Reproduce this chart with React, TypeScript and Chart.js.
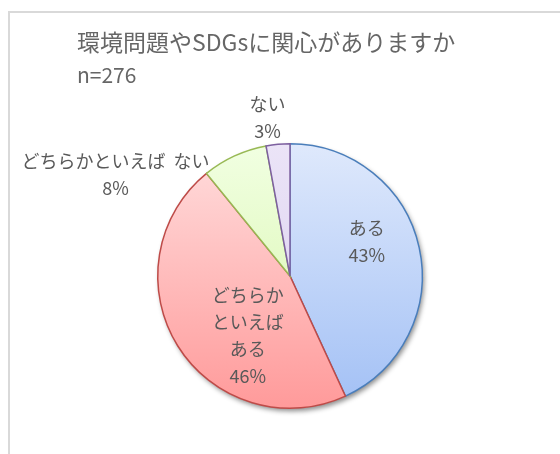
import React, { useEffect, useRef } from "react";
import { Chart, registerables } from "chart.js";

Chart.register(...registerables);

const titleLines = ["環境問題やSDGsに関心がありますか", "n=276"];
const categories = ["ある", "どちらかといえばある", "どちらかといえばない", "ない"];
const counts = [119, 127, 22, 8];
const labelLines = [["ある"], ["どちらか", "といえば", "ある"], ["どちらかといえば  ない"], ["ない"]];

const FONT = '"Noto Sans CJK JP", "Noto Sans", sans-serif';
const TEXT = "#595959";
const gradStops = [
  ["#dfe9fc", "#a2c0f5"],
  ["#ffdede", "#ff9a9a"],
  ["#f1ffe2", "#d6f5a8"],
  ["#ebe4f7", "#d9cdef"],
];
const borders = ["#4a7ebb", "#be4b48", "#98b954", "#7d60a0"];
// label block centre offsets in units of radius
const labelPos = [
  [0.58, -0.26],
  [-0.32, 0.45],
  [-1.32, -0.77],
  [-0.17, -1.2],
];

const bgPlugin = {
  id: "bgFrame",
  beforeDraw(chart: any) {
    const ctx = chart.ctx;
    ctx.save();
    ctx.fillStyle = "#ffffff";
    ctx.fillRect(0, 0, chart.width, chart.height);
    ctx.strokeStyle = "#d9d9d9";
    ctx.lineWidth = 2;
    ctx.beginPath();
    ctx.moveTo(9, chart.height);
    ctx.lineTo(9, 12);
    ctx.lineTo(chart.width, 12);
    ctx.stroke();
    ctx.fillStyle = "#666666";
    ctx.textBaseline = "middle";
    ctx.textAlign = "left";
    ctx.font = `23px ${FONT}`;
    ctx.fillText(titleLines[0], 77, 42);
    ctx.font = `21px ${FONT}`;
    ctx.fillText(titleLines[1], 77, 75);
    ctx.restore();
  },
  beforeDatasetsDraw(chart: any) {
    const arc = chart.getDatasetMeta(0).data[0];
    if (!arc) return;
    const ctx = chart.ctx;
    ctx.save();
    ctx.shadowColor = "rgba(0,0,0,0.45)";
    ctx.shadowBlur = 5;
    ctx.shadowOffsetX = 2;
    ctx.shadowOffsetY = 3;
    ctx.fillStyle = "#ffffff";
    ctx.beginPath();
    ctx.arc(arc.x, arc.y, arc.outerRadius, 0, Math.PI * 2);
    ctx.fill();
    ctx.restore();
  },
  afterDatasetsDraw(chart: any) {
    const meta = chart.getDatasetMeta(0);
    const a0 = meta.data[0];
    if (!a0) return;
    const total = counts.reduce((s, v) => s + v, 0);
    const ctx = chart.ctx;
    ctx.save();
    ctx.fillStyle = TEXT;
    ctx.textAlign = "center";
    ctx.textBaseline = "middle";
    ctx.font = `18px ${FONT}`;
    const lh = 27;
    counts.forEach((v, i) => {
      const lines = [...labelLines[i], Math.round((v / total) * 100) + "%"];
      const cx = a0.x + labelPos[i][0] * a0.outerRadius;
      const cy = a0.y + labelPos[i][1] * a0.outerRadius;
      const start = cy - ((lines.length - 1) * lh) / 2;
      lines.forEach((t, k) => ctx.fillText(t, cx, start + k * lh));
    });
    ctx.restore();
  },
};

export default function App() {
  const ref = useRef<HTMLCanvasElement>(null);
  useEffect(() => {
    const canvas = ref.current!;
    const makeBg = (c: any) => {
      const chart = c.chart;
      const ca = chart.chartArea;
      const i = c.dataIndex;
      if (!ca) return gradStops[i][1];
      const cy = (ca.top + ca.bottom) / 2;
      const r = Math.min(ca.right - ca.left, ca.bottom - ca.top) / 2;
      const g = chart.ctx.createLinearGradient(0, cy - r, 0, cy + r);
      g.addColorStop(0, gradStops[i][0]);
      g.addColorStop(1, gradStops[i][1]);
      return g;
    };
    const chart = new Chart(canvas, {
      type: "pie",
      data: {
        labels: categories,
        datasets: [
          {
            data: counts,
            backgroundColor: makeBg,
            borderColor: borders,
            borderWidth: 1.5,
            borderJoinStyle: "miter",
          } as any,
        ],
      },
      options: {
        responsive: false,
        animation: false,
        devicePixelRatio: 1,
        layout: { padding: { left: 157, right: 137, top: 143, bottom: 45 } },
        plugins: {
          legend: { display: false },
          tooltip: { enabled: false },
          title: { display: false },
        },
      },
      plugins: [bgPlugin],
    });
    return () => chart.destroy();
  }, []);
  return (
    <div style={{ position: "absolute", left: 0, top: 0, width: 560, height: 454 }}>
      <canvas ref={ref} width={560} height={454} />
    </div>
  );
}
